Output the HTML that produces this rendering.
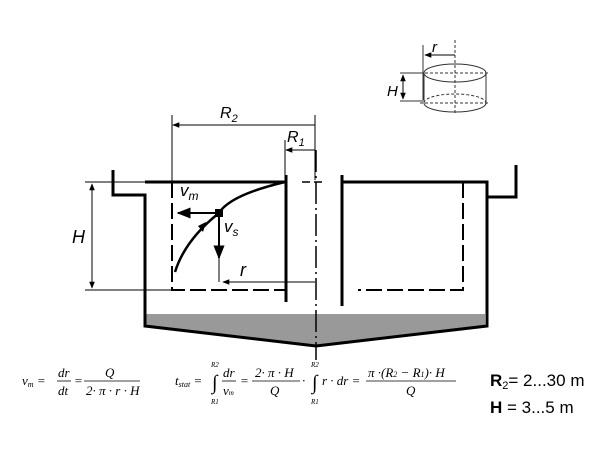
<!DOCTYPE html>
<html><head><style>body{margin:0;background:#fff}svg{display:block}</style></head><body>
<svg width="611" height="459" viewBox="0 0 611 459" xmlns="http://www.w3.org/2000/svg" font-family="Liberation Sans, sans-serif">
<defs><marker id="a" viewBox="0 0 10 10" refX="9" refY="5" markerWidth="7" markerHeight="7" orient="auto-start-reverse"><path d="M0,1 L10,5 L0,9z" fill="#000"/></marker></defs>
<rect width="611" height="459" fill="#fff"/>
<!-- sludge -->
<polygon points="145,314 485,314 485,325 316,345 145,325" fill="#999"/>
<g stroke="#000" fill="none">
<polyline points="113,170 113,195 145,195 145,326 316,346 487,326 487,182 342,182" stroke-width="3"/>
<polyline points="516,165 516,197 487,197" stroke-width="3"/>
<line x1="145" y1="182" x2="287" y2="182" stroke-width="3"/>
<line x1="286" y1="175" x2="286" y2="302" stroke-width="3"/>
<line x1="342" y1="175" x2="342" y2="306" stroke-width="3"/>
<polyline points="172,182 172,290 285,290" stroke-width="2" stroke-dasharray="16,5"/>
<polyline points="463,182 463,290 358,290" stroke-width="2" stroke-dasharray="16,5"/>
<line x1="316" y1="150" x2="316" y2="360" stroke-width="1.5" stroke-dasharray="22,4,2,4"/>
<line x1="302" y1="182" x2="325" y2="182" stroke-width="1.5" stroke-dasharray="8,4"/>
<!-- dims -->
<g stroke-width="1">
<line x1="172" y1="115" x2="172" y2="182"/>
<line x1="315" y1="115" x2="315" y2="180"/>
<line x1="315" y1="125" x2="173" y2="125" marker-end="url(#a)"/>
<line x1="285" y1="140" x2="285" y2="175"/>
<line x1="315" y1="150" x2="286" y2="150" marker-end="url(#a)"/>
<line x1="85" y1="182" x2="145" y2="182"/>
<line x1="85" y1="290" x2="172" y2="290"/>
<line x1="92" y1="184" x2="92" y2="288" marker-start="url(#a)" marker-end="url(#a)"/>
<line x1="315" y1="282" x2="223" y2="282" marker-end="url(#a)"/>
<line x1="219" y1="213" x2="219" y2="282"/>
</g>
<path d="M285,182 Q230,195 219,213 Q185,240 175,272" stroke-width="2.5"/>
<line x1="219" y1="213" x2="178" y2="213" stroke-width="2" marker-end="url(#a)"/>
<line x1="219" y1="213" x2="219" y2="258" stroke-width="2" marker-end="url(#a)"/>
<!-- cylinder -->
<g stroke-width="1" stroke="#333">
<ellipse cx="455" cy="73" rx="31" ry="9"/>
<path d="M424,73 V103 A31,9 0 0 0 486,103 V73"/>
<path d="M424,103 A31,9 0 0 1 486,103" stroke-dasharray="3,2"/>
<line x1="455" y1="40" x2="455" y2="115" stroke-dasharray="3,2"/>
<line x1="420" y1="73" x2="490" y2="73" stroke-dasharray="3,2"/>
<line x1="420" y1="103" x2="490" y2="103" stroke-dasharray="3,2"/>
<line x1="423" y1="45" x2="423" y2="100"/>
<line x1="455" y1="55" x2="425" y2="55" stroke="#000" marker-end="url(#a)"/>
<line x1="400" y1="73" x2="423" y2="73"/>
<line x1="400" y1="101" x2="423" y2="101"/>
<line x1="403" y1="75" x2="403" y2="99" stroke="#000" marker-start="url(#a)" marker-end="url(#a)"/>
</g>
<rect x="219" y="213" width="0" height="0"/>
</g>
<rect x="215" y="209" width="8" height="8" fill="#000"/>
<path d="M198,226 l8,-4 l-3,10z" fill="#000"/>
<g font-style="italic" font-size="16" fill="#000">
<text x="220" y="118">R<tspan font-size="11" dy="4">2</tspan></text>
<text x="287" y="142">R<tspan font-size="11" dy="4">1</tspan></text>
<text x="72" y="243" font-size="18">H</text>
<text x="180" y="196" font-size="17">v<tspan font-size="12" dy="4">m</tspan></text>
<text x="224" y="232" font-size="17">v<tspan font-size="12" dy="4">s</tspan></text>
<text x="240" y="276" font-size="18">r</text>
<text x="387" y="96" font-size="15">H</text>
<text x="432" y="52" font-size="15">r</text>
</g>
<g font-family="Liberation Serif, serif" font-style="italic" font-size="13" fill="#000">
<text x="22" y="385">v<tspan font-size="8" dy="2">m</tspan><tspan dy="-2"> =</tspan></text>
<line x1="57" y1="381" x2="71" y2="381" stroke="#000" stroke-width="0.8"/>
<text x="58" y="377">dr</text><text x="58" y="395">dt</text>
<text x="74" y="385">=</text>
<line x1="84" y1="381" x2="140" y2="381" stroke="#000" stroke-width="0.8"/>
<text x="105" y="377">Q</text><text x="86" y="395">2· π · r · H</text>
<text x="175" y="385">t<tspan font-size="8" dy="2">stat</tspan><tspan dy="-2"> =</tspan></text>
<text x="212" y="389" font-size="20">∫</text>
<text x="211" y="367" font-size="7">R2</text><text x="211" y="404" font-size="7">R1</text>
<line x1="222" y1="381" x2="236" y2="381" stroke="#000" stroke-width="0.8"/>
<text x="223" y="377">dr</text><text x="223" y="395">v<tspan font-size="7">m</tspan></text>
<text x="240" y="385">=</text>
<line x1="252" y1="381" x2="300" y2="381" stroke="#000" stroke-width="0.8"/>
<text x="255" y="377">2· π · H</text><text x="270" y="395">Q</text>
<text x="302" y="385">·</text>
<text x="312" y="389" font-size="20">∫</text>
<text x="311" y="367" font-size="7">R2</text><text x="311" y="404" font-size="7">R1</text>
<text x="322" y="385">r · dr =</text>
<line x1="366" y1="381" x2="456" y2="381" stroke="#000" stroke-width="0.8"/>
<text x="368" y="377">π ·(R<tspan font-size="8">2</tspan> − R<tspan font-size="8">1</tspan>)· H</text>
<text x="406" y="395">Q</text>
</g>
<g font-size="17" fill="#000">
<text x="490" y="386"><tspan font-weight="bold">R</tspan><tspan font-size="11" dy="3">2</tspan><tspan dy="-3">= 2...30 m</tspan></text>
<text x="490" y="413"><tspan font-weight="bold">H</tspan> = 3...5 m</text>
</g>
</svg>
</body></html>
